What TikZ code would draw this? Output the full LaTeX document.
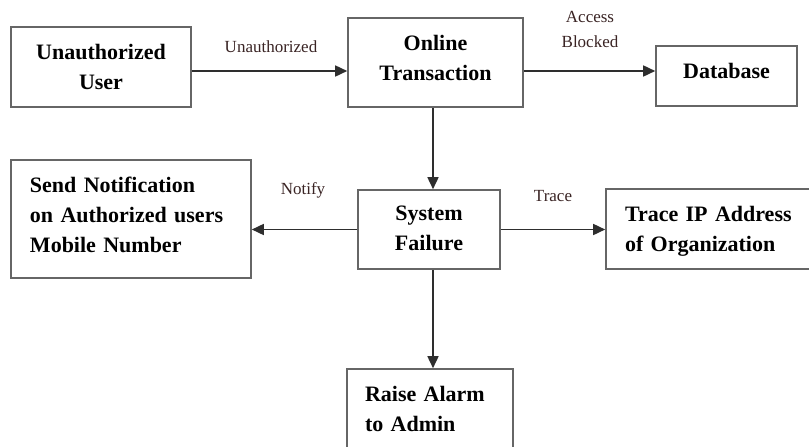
\documentclass[tikz,border=0pt]{standalone}
\usepackage{fontspec}
\setmainfont{Liberation Serif}
\usepackage{tikz}
\usetikzlibrary{arrows.meta,positioning}
\definecolor{boxline}{HTML}{666666}
\definecolor{arrowline}{HTML}{2E2E2E}
\definecolor{lbltext}{HTML}{3A2424}

\begin{document}
\begin{tikzpicture}[x=1pt, y=-1pt, line join=miter,
  blk/.style={draw=boxline, line width=1.6pt, inner sep=0pt, text height=15pt,
    font=\fontsize{22}{30}\selectfont\bfseries},
  ctr/.style={blk, align=center},
  lft/.style={blk, align=left},
  lbl/.style={text=lbltext, inner sep=0pt, align=center,
    font=\fontsize{17}{25}\selectfont},
  arr/.style={draw=arrowline, line width=1.6pt,
    -{Triangle[length=12pt,width=11pt]}}]
  \useasboundingbox (0,0) rectangle (809,447);
  \fill[white] (0,0) rectangle (809,447);
  \clip (0,0) rectangle (809,447);

  % boxes
  \node[ctr, minimum width=180, minimum height=80, text height=45pt, text depth=1pt] (unauth) at (101,67) {Unauthorized\\User};
  \node[ctr, minimum width=175, minimum height=89, text height=45pt, text depth=10pt] (online) at (435.5,62.5) {Online\\Transaction};
  \node[ctr, minimum width=141, minimum height=60, text depth=11pt] (db) at (726.5,76) {Database};
  \node[lft, text width=202, inner xsep=19, minimum height=118, text depth=69pt] (notify) at (131,219)
    {Send Notification\\on Authorized users\\Mobile Number};
  \node[ctr, minimum width=142, minimum height=79, text height=45pt, text depth=4pt] (failure) at (429,229.5) {System\\Failure};
  \node[lft, text width=175, inner xsep=19, minimum height=80, text depth=31pt] (trace) at (712.5,229)
    {Trace IP Address\\of Organization};
  \node[lft, text width=130, inner xsep=18, minimum height=86, text depth=37pt] (alarm) at (430,412)
    {Raise Alarm\\to Admin};

  % connector labels
  \node[lbl] (lunauth) at (271,47) {Unauthorized};
  \node[lbl] (laccess) at (590,29) {Access\\Blocked};
  \node[lbl] (lnotify) at (303,190) {Notify};
  \node[lbl] (ltrace) at (553,196) {Trace};

  % connectors
  \draw[arr] ([yshift=-4pt]unauth.east) -- ([yshift=-4pt]unauth.east -| online.west);
  \draw[arr] ([yshift=-8.5pt]online.east) -- ([yshift=-8.5pt]online.east -| db.west);
  \draw[arr] ([xshift=-2.5pt]online.south) -- ([xshift=-2.5pt]online.south |- failure.north);
  \draw[arr] (failure.west) -- (failure.west -| notify.east);
  \draw[arr] (failure.east) -- (failure.east -| trace.west);
  \draw[arr] ([xshift=4pt]failure.south) -- ([xshift=4pt]failure.south |- alarm.north);
\end{tikzpicture}
\end{document}
